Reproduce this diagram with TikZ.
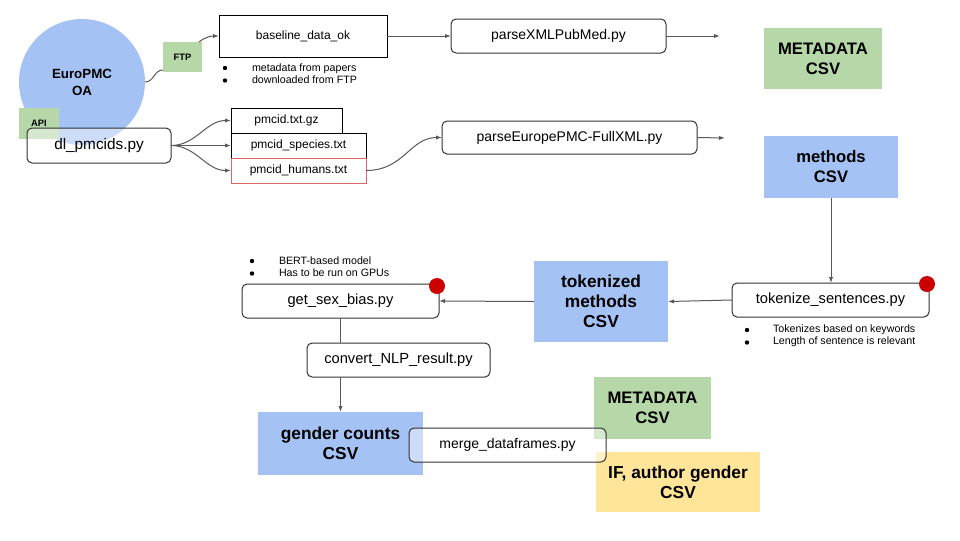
\documentclass[tikz,border=0pt]{standalone}
\usepackage{fontspec}
\setmainfont{Liberation Sans}
\usetikzlibrary{arrows.meta,calc}
\definecolor{cblue}{HTML}{A4C2F4}
\definecolor{cgreen}{HTML}{B6D7A8}
\definecolor{cyellow}{HTML}{FFE599}
\definecolor{cred}{HTML}{CC0000}
\definecolor{cpink}{HTML}{E06666}
\definecolor{cline}{HTML}{595959}
\definecolor{cborder}{HTML}{333333}
\begin{document}
\begin{tikzpicture}[x=0.75pt,y=-0.75pt,
  every node/.style={font=\fontsize{11}{13}\selectfont, inner sep=0pt, outer sep=0pt},
  sqbox/.style={draw=black, line width=0.75pt, fill=white, rectangle},
  rbox/.style={draw=cborder, line width=0.75pt, fill=white, rounded corners=3.75pt},
  tbox/.style={draw=cborder, line width=0.75pt, fill=white, fill opacity=0.45, text opacity=1, draw opacity=1, rounded corners=3.75pt},
  csv/.style={align=center, font=\fontsize{12.5}{15}\selectfont\bfseries},
  csvb/.style={align=center, font=\fontsize{13}{15}\selectfont\bfseries},
  tag/.style={fill=cgreen, font=\fontsize{7}{8}\selectfont\bfseries},
  conn/.style={draw=cline, line width=0.75pt},
  arr/.style={conn, -{Latex[length=4.5pt,width=3.2pt]}},
  reddot/.style={circle, fill=cred, minimum size=12pt},
  bdot/.style={circle, fill=black, minimum size=3.3pt},
  note/.style={align=left, font=\fontsize{8}{9}\selectfont, anchor=west},
]
\useasboundingbox[fill=white] (0,0) rectangle (960,540);

% --- top-left source ---
\node[circle, fill=cblue, minimum size=94.5pt, align=center,
      font=\fontsize{10}{12.75}\selectfont\bfseries] (circ) at (82,82) {EuroPMC\\OA};
\node[tag, minimum width=30pt, minimum height=23.25pt] (api) at (39,123.5) {API};
\node[tag, minimum width=29.25pt, minimum height=22.5pt] (ftp) at (182.5,57) {FTP};
\node[tbox, minimum width=108pt, minimum height=26.25pt, font=\fontsize{11.5}{13}\selectfont] (dl) at (99,145.5) {dl\_pmcids.py};

\node[sqbox, minimum width=126pt, minimum height=31.5pt, font=\fontsize{9}{11}\selectfont] (base) at (303,36) {baseline\_data\_ok};
\node[bdot] (b1a) at (225,68) {};
\node[bdot] (b1b) at (225,80.5) {};
\node[note] (n1) at (252,74) {metadata from papers\\downloaded from FTP};

\node[sqbox, minimum width=83.25pt, minimum height=18.75pt, font=\fontsize{9}{11}\selectfont] (gz) at (286.5,120.5) {pmcid.txt.gz};
\node[sqbox, minimum width=101.25pt, minimum height=18.75pt, font=\fontsize{9}{11}\selectfont] (spec) at (298.5,145.5) {pmcid\_species.txt};
\node[sqbox, draw=cpink, minimum width=101.25pt, minimum height=18.75pt, font=\fontsize{9}{11}\selectfont] (hum) at (298.5,170.5) {pmcid\_humans.txt};

\node[rbox, minimum width=161.25pt, minimum height=25.5pt, font=\fontsize{10.5}{13}\selectfont] (pxml) at (558.5,36) {parseXMLPubMed.py};
\node[fill=cgreen, csv, minimum width=88.5pt, minimum height=45.75pt] (meta1) at (823,58.5) {METADATA\\CSV};
\node[rbox, minimum width=191.25pt, minimum height=24.75pt, font=\fontsize{10.5}{13}\selectfont] (peur) at (569.5,137.5) {parseEuropePMC-FullXML.py};
\node[fill=cblue, csv, minimum width=100.5pt, minimum height=46.5pt] (meth) at (831,167) {methods\\CSV};

\coordinate (pxmlend) at (720,36);
\coordinate (peurend) at (725,138);

% --- middle row ---
\node[rbox, minimum width=147.75pt, minimum height=25.5pt] (tok) at (830.5,300) {tokenize\_sentences.py};
\node[bdot] (b3a) at (747,330) {};
\node[bdot] (b3b) at (747,342.5) {};
\node[note] (n3) at (773,336) {Tokenizes based on keywords\\Length of sentence is relevant};
\node[fill=cblue, csvb, minimum width=100.5pt, minimum height=60.75pt] (tokm) at (601,301.5) {tokenized\\methods\\CSV};
\node[rbox, minimum width=147.75pt, minimum height=25.5pt] (gsb) at (340.5,301) {get\_sex\_bias.py};
\node[bdot] (b2a) at (252,261) {};
\node[bdot] (b2b) at (252,273.5) {};
\node[note] (n2) at (279,267) {BERT-based model\\Has to be run on GPUs};
\node[rbox, minimum width=137.25pt, minimum height=25.5pt] (conv) at (398.5,360) {convert\_NLP\_result.py};

% --- bottom row ---
\node[fill=cblue, csvb, minimum width=123.75pt, minimum height=47.25pt] (gc) at (340.5,443.5) {gender counts\\CSV};
\node[fill=cgreen, csv, minimum width=87.75pt, minimum height=46.5pt] (meta2) at (652.5,408) {METADATA\\CSV};
\node[fill=cyellow, csvb, minimum width=123pt, minimum height=45pt] (ifa) at (678,482) {IF, author gender\\CSV};
\node[tbox, minimum width=147.75pt, minimum height=25.5pt, font=\fontsize{10.5}{13}\selectfont] (merge) at (507.5,445) {merge\_dataframes.py};

% --- connectors ---
\draw[conn] (circ.east) .. controls +(9,0) and +(-9,0) .. ($(ftp.south west)+(0,-2)$);
\draw[arr] ($(ftp.north east)+(-3,0)$) .. controls +(6,-5) and +(-8,0) .. (base.west);
\draw[arr] (base.east) -- (pxml.west);
\draw[arr] (pxml.east) -- (pxmlend);
\draw[arr] (dl.east) .. controls +(25,0) and +(-25,0) .. (gz.west);
\draw[arr] (dl.east) -- (spec.west);
\draw[arr] (dl.east) .. controls +(25,0) and +(-25,0) .. (hum.west);
\draw[arr] (hum.east) .. controls +(38,0) and +(-32,0) .. (peur.west);
\draw[arr] (peur.east) -- (peurend);
\draw[arr] (meth.south) -- (meth.south |- tok.north);
\draw[arr] (tok.west) -- (tokm.east);
\draw[arr] (tokm.west) -- (gsb.east);
\draw[conn] (gsb.south) -- (gsb.south |- conv.north);
\draw[arr] (gsb.south |- conv.south) -- (gc.north);

% --- red markers ---
\node[reddot] (d1) at (437,286) {};
\node[reddot] (d2) at (927,284) {};
\end{tikzpicture}
\end{document}
